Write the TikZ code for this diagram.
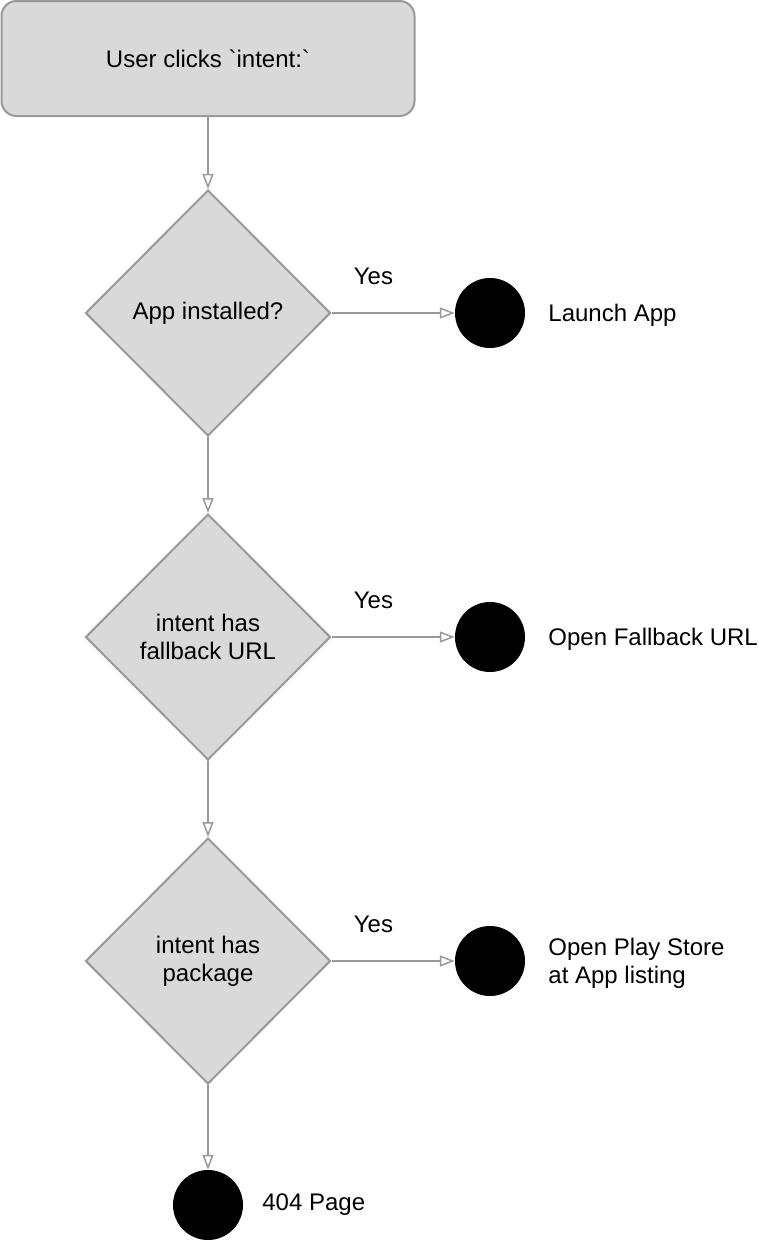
\documentclass[tikz,border=0pt]{standalone}
\usepackage{fontspec}
\setmainfont{Liberation Sans}
\usepackage{tikz}
\usetikzlibrary{arrows.meta,positioning,shapes.geometric}

\definecolor{boxfill}{HTML}{D9D9D9}
\definecolor{edgegray}{HTML}{999999}

\tikzset{
  startbox/.style={draw=edgegray, fill=boxfill, line width=2pt, rounded corners=15pt,
    minimum width=413pt, minimum height=115pt, inner sep=0pt},
  decision/.style={diamond, draw=edgegray, fill=boxfill, line width=2pt, inner sep=0pt,
    minimum width=245pt, minimum height=246pt, align=center},
  endpoint/.style={circle, fill=black, minimum size=70pt, inner sep=0pt},
  outcome/.style={right=23pt of #1, inner sep=0pt, align=left, yshift=-2pt},
  flow/.style={draw=edgegray, line width=1.8pt,
    -{Triangle[open, length=15pt, width=11pt, line width=1.5pt]}},
  yeslabel/.style={pos=0.34, above=27pt, inner sep=0pt}
}

\begin{document}
\begin{tikzpicture}[x=1pt, y=-1pt, font=\fontsize{24}{28}\selectfont]
  \useasboundingbox (0,0) rectangle (758,1242);

  \node[startbox] (start) at (208,58.5) {User clicks \textasciigrave intent:\textasciigrave};
  \node[decision] (qapp) at (208,313) {App installed?};
  \node[decision] (qurl) at (208,637) {intent has\\fallback URL};
  \node[decision] (qpkg) at (208,961) {intent has\\package};

  \node[endpoint] (launch) at (490,313) {};
  \node[endpoint] (fallback) at (490,637) {};
  \node[endpoint] (store) at (490,961) {};
  \node[endpoint] (notfound) at (208,1205) {};

  \node[outcome=launch] {Launch App};
  \node[outcome=fallback] {Open Fallback URL};
  \node[outcome=store] {Open Play Store\\at App listing};
  \node[right=19pt of notfound, inner sep=0pt] {404 Page};

  \draw[flow] (start) -- (qapp);
  \draw[flow] (qapp) -- (qurl);
  \draw[flow] (qurl) -- (qpkg);
  \draw[flow] (qpkg) -- (notfound);

  \draw[flow] (qapp) -- node[yeslabel] {Yes} (launch);
  \draw[flow] (qurl) -- node[yeslabel] {Yes} (fallback);
  \draw[flow] (qpkg) -- node[yeslabel] {Yes} (store);
\end{tikzpicture}
\end{document}
